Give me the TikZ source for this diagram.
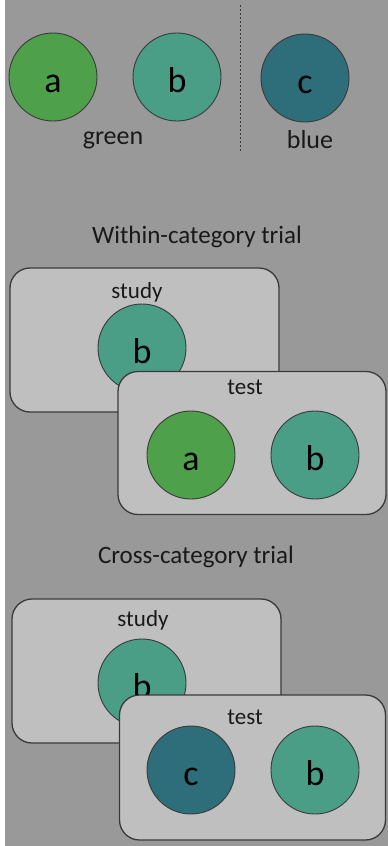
\documentclass[tikz,border=0pt]{standalone}
\usepackage{fontspec}
\setmainfont{Carlito}
\usepackage{xcolor}
\usetikzlibrary{positioning}
\definecolor{bggray}{HTML}{999999}
\definecolor{panelgray}{HTML}{BFBFBF}
\definecolor{greenA}{HTML}{4FA04B}
\definecolor{tealB}{HTML}{4A9E86}
\definecolor{blueC}{HTML}{2E6E7A}
\definecolor{inkgray}{HTML}{3A3A3A}
\tikzset{
  stim/.style={circle, draw=inkgray, line width=0.9pt, minimum size=88pt, inner sep=0pt, text height=30pt, text depth=0pt, font=\fontsize{36}{40}\selectfont},
  panel/.style={draw=inkgray, line width=1.3pt, rounded corners=20pt, fill=panelgray, minimum width=269pt, minimum height=144pt, inner sep=0pt},
  plbl/.style={font=\fontsize{23}{27}\selectfont, text=black!90},
  catlbl/.style={font=\fontsize{26}{30}\selectfont, text=black!90},
  ttl/.style={font=\fontsize{25}{29}\selectfont, text=black!90},
}
\begin{document}
\begin{tikzpicture}[x=1pt,y=-1pt]
\useasboundingbox (0,0) rectangle (388,846);
\fill[white] (0,0) rectangle (388,846);
\fill[bggray] (5,0) rectangle (388,846);
% categories
\node[stim, fill=greenA] (catA) at (53,77) {a};
\node[stim, fill=tealB]  (catB) at (177,77) {b};
\node[stim, fill=blueC]  (catC) at (305,78) {c};
\node[catlbl] (green) at (113,140) {green};
\node[catlbl] (blue)  at (310,140) {blue};
\coordinate (divtop) at (240,5);
\coordinate (divbot) at (240,152);
\draw[inkgray, line width=1pt, dash pattern=on 2pt off 2pt] (divtop) -- (divbot);
% within-category trial
\node[ttl] (within) at (197,237) {Within-category trial};
\node[panel] (wstudy) at (144.5,340) {};
\node[plbl] (wstudylbl) at (137,292) {study};
\node[stim, fill=tealB] (wsB) at (142,348) {b};
\node[panel, minimum width=268pt, minimum height=143pt] (wtest) at (252,443) {};
\node[plbl] (wtestlbl) at (245,387) {test};
\node[stim, fill=greenA] (wtA) at (191,455) {a};
\node[stim, fill=tealB]  (wtB) at (315,455) {b};
% cross-category trial
\node[ttl] (cross) at (196,557) {Cross-category trial};
\node[panel] (cstudy) at (146.5,671) {};
\node[plbl] (cstudylbl) at (143,620) {study};
\node[stim, fill=tealB] (csB) at (142,683) {b};
\node[panel, minimum width=266pt, minimum height=145pt] (ctest) at (252.5,767.5) {};
\node[plbl] (ctestlbl) at (245,717) {test};
\node[stim, fill=blueC] (ctC) at (191,770) {c};
\node[stim, fill=tealB] (ctB) at (315,770) {b};
\end{tikzpicture}
\end{document}
